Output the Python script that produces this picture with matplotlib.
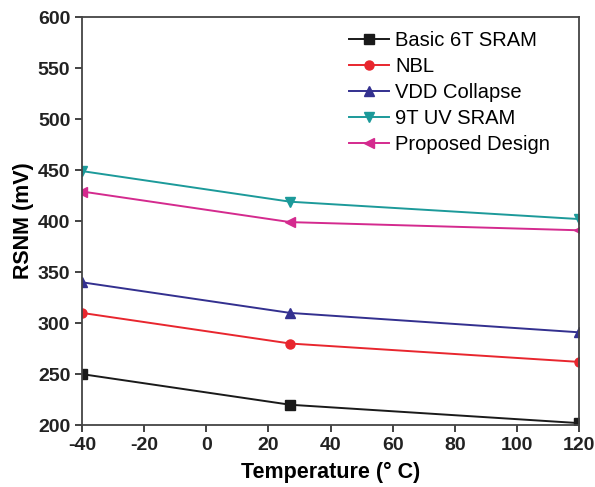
import numpy as np
import matplotlib.pyplot as plt

plt.rcParams["font.family"] = ["Liberation Sans", "DejaVu Sans"]
plt.rcParams["axes.unicode_minus"] = False

temperature = [-40, 27, 120]
basic_6t = [250, 220, 202]
nbl = [310, 280, 262]
vdd_collapse = [340, 310, 291]
uv_9t = [449, 419, 402]
proposed = [429, 399, 391]

series = [
    ("Basic 6T SRAM", basic_6t, "#1a1a1a", "s"),
    ("NBL", nbl, "#e8262e", "o"),
    ("VDD Collapse", vdd_collapse, "#33308f", "^"),
    ("9T UV SRAM", uv_9t, "#1c9a9a", "v"),
    ("Proposed Design", proposed, "#d42a8e", "<"),
]

fig = plt.figure(figsize=(5.95, 4.87), dpi=100)
ax = fig.add_axes([0.138, 0.127, 0.835, 0.838])

for label, vals, color, marker in series:
    ax.plot(temperature, vals, color=color, marker=marker, markersize=6.5,
            linewidth=1.4, label=label)

ax.set_xlim(-40, 120)
ax.set_ylim(200, 600)
ax.set_xticks(np.arange(-40, 121, 20))
ax.set_yticks(np.arange(200, 601, 50))
ax.tick_params(direction="out", length=5, width=1.2, labelsize=14,
               top=False, right=False, colors="#222222")
for lbl in ax.get_xticklabels() + ax.get_yticklabels():
    lbl.set_fontweight("bold")
for sp in ax.spines.values():
    sp.set_linewidth(1.3)
    sp.set_color("#444444")

ax.set_xlabel("Temperature (° C)", fontsize=15.5, fontweight="bold", labelpad=6)
ax.set_ylabel("RSNM (mV)", fontsize=15.5, fontweight="bold", labelpad=3)

ax.legend(loc="upper right", frameon=False, fontsize=14.5, handlelength=2.0,
          labelspacing=0.35, borderaxespad=0.3, handletextpad=0.3,
          bbox_to_anchor=(0.97, 1.0))

fig.savefig("out.png", dpi=100)
